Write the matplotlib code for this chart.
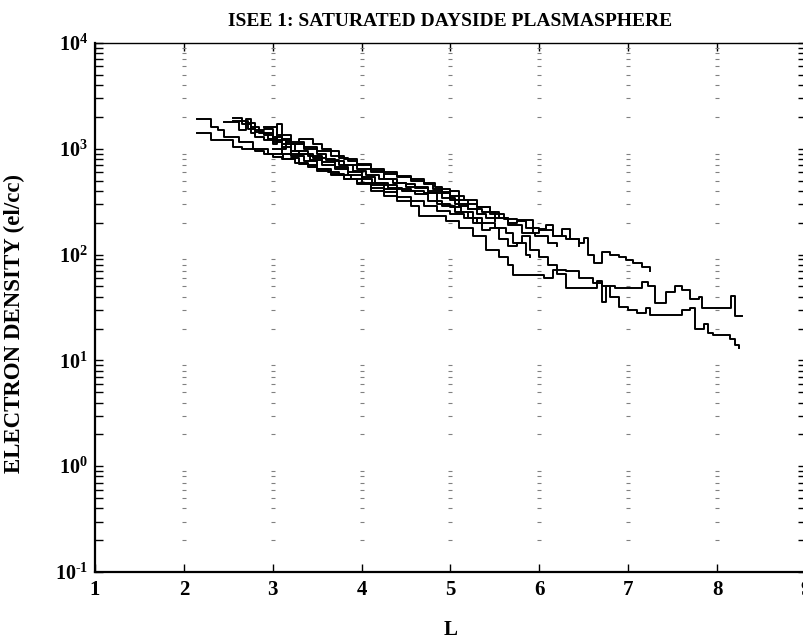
import numpy as np
import matplotlib
matplotlib.use('Agg')
import matplotlib.pyplot as plt
from matplotlib.ticker import LogLocator, NullFormatter

plt.rcParams['font.family'] = ['Liberation Serif', 'DejaVu Serif']
plt.rcParams['font.weight'] = 'bold'
plt.rcParams['mathtext.fontset'] = 'custom'
plt.rcParams['mathtext.rm'] = 'Liberation Serif:bold'
plt.rcParams['mathtext.bf'] = 'Liberation Serif:bold'
plt.rcParams['mathtext.it'] = 'Liberation Serif:bold'

# Density traces (L, electron density el/cc)
L1 = [2.15, 2.22, 2.3, 2.38, 2.45, 2.55, 2.62, 2.7, 2.78, 2.88, 2.95, 3.05, 3.12, 3.2, 3.3,
      3.4, 3.5, 3.62, 3.75, 3.88, 4.0, 4.12, 4.25, 4.4]
N1 = [1900, 1900, 1600, 1500, 1300, 1300, 1150, 1150, 1000, 1000, 900, 900, 800, 820, 720,
      700, 640, 600, 560, 520, 480, 450, 420, 390]

L2 = [2.15, 2.3, 2.45, 2.55, 2.65, 2.8, 2.9, 3.0, 3.1, 3.25, 3.4, 3.5, 3.65, 3.8, 3.95,
      4.1, 4.25, 4.4, 4.55, 4.7, 4.85, 5.0, 5.15, 5.3]
N2 = [1400, 1210, 1210, 1040, 1000, 950, 900, 840, 800, 740, 680, 620, 560, 520, 470,
      430, 390, 350, 320, 290, 260, 240, 220, 200]

L3 = [2.45, 2.55, 2.62, 2.7, 2.75, 2.8, 2.9, 3.0, 3.05, 3.1, 3.15, 3.2, 3.3, 3.45, 3.6,
      3.75, 3.9, 4.05, 4.2, 4.35, 4.5, 4.6, 4.75, 4.9, 5.05, 5.2, 5.35, 5.5, 5.65, 5.8,
      5.95, 6.1, 6.2]
N3 = [1800, 1800, 1500, 1900, 1400, 1300, 1200, 1100, 1700, 1000, 1200, 950, 900, 820, 780,
      700, 620, 560, 520, 480, 440, 430, 380, 340, 300, 270, 250, 220, 190, 160,
      150, 130, 120]

L4 = [2.55, 2.65, 2.75, 2.85, 2.95, 3.05, 3.15, 3.25, 3.35, 3.5, 3.6, 3.7, 3.8, 3.95, 4.1,
      4.25, 4.4, 4.5, 4.6, 4.75, 4.9, 5.0, 5.15, 5.3, 5.45, 5.55, 5.65, 5.75, 5.85, 6.0,
      6.15, 6.3, 6.45]
N4 = [1950, 1700, 1600, 1400, 1250, 1200, 1150, 1150, 1050, 900, 800, 760, 700, 650, 600,
      520, 470, 460, 440, 400, 390, 360, 330, 280, 250, 220, 200, 210, 180, 170,
      150, 140, 120]

L5 = [2.7, 2.8, 2.9, 3.0, 3.1, 3.2, 3.35, 3.5, 3.65, 3.8, 3.95, 4.1, 4.25, 4.4, 4.55,
      4.7, 4.82, 4.9, 5.0, 5.1, 5.2, 5.3, 5.45, 5.6, 5.75, 5.93, 6.0, 6.08, 6.15, 6.25,
      6.35, 6.45, 6.5, 6.55, 6.62, 6.7, 6.8, 6.9, 6.98, 7.05, 7.15, 7.25]
N5 = [1750, 1500, 1550, 1300, 1250, 1100, 1000, 950, 850, 800, 720, 650, 600, 550, 520,
      480, 440, 420, 400, 330, 300, 280, 240, 215, 212, 160, 175, 190, 150, 175,
      140, 130, 145, 100, 84, 106, 100, 95, 89, 84, 76, 70]

L6 = [2.9, 3.0, 3.1, 3.25, 3.4, 3.55, 3.7, 3.85, 4.0, 4.15, 4.3, 4.45, 4.6, 4.75, 4.9,
      5.05, 5.2, 5.35, 5.5, 5.62, 5.7, 5.8, 5.9, 6.0, 6.1, 6.2, 6.3, 6.45, 6.6, 6.65,
      6.7, 6.75, 6.85, 7.0, 7.1, 7.15, 7.22, 7.3, 7.36, 7.43, 7.53, 7.6, 7.7, 7.8, 7.83,
      8.13, 8.16, 8.2, 8.28]
N6 = [1400, 1200, 1100, 950, 850, 750, 680, 600, 540, 480, 430, 400, 370, 320, 290,
      250, 220, 200, 180, 160, 130, 150, 110, 95, 80, 65, 48, 48, 48, 56,
      36, 50, 48, 48, 48, 55, 50, 35, 35, 44, 50, 46, 38, 40, 31,
      31, 41, 26, 26]

L7 = [3.0, 3.1, 3.2, 3.35, 3.5, 3.65, 3.8, 3.95, 4.1, 4.25, 4.4, 4.55, 4.65, 4.8, 4.95,
      5.1, 5.25, 5.4, 5.55, 5.65, 5.7, 5.95, 6.05, 6.15, 6.3, 6.45, 6.6, 6.7, 6.8, 6.9,
      7.0, 7.1, 7.2, 7.25, 7.5, 7.6, 7.7, 7.75, 7.85, 7.9, 7.95, 8.1, 8.15, 8.2, 8.25]
N7 = [1000, 900, 850, 760, 650, 580, 520, 460, 400, 360, 320, 290, 230, 230, 210,
      180, 150, 110, 95, 80, 64, 64, 60, 72, 70, 60, 54, 50, 40, 32,
      30, 28, 31, 27, 27, 30, 31, 20, 22, 18, 17.5, 17.5, 16, 14, 13]

L8 = [2.55, 2.65, 2.72, 2.8, 2.9, 3.0, 3.1, 3.2, 3.3, 3.42, 3.55, 3.7, 3.85, 4.0, 4.12,
      4.25, 4.4, 4.55, 4.7, 4.85, 5.0, 5.12, 5.25, 5.35, 5.45, 5.55, 5.65, 5.75, 5.85, 5.9]
N8 = [1850, 1850, 1550, 1450, 1350, 1150, 1050, 900, 900, 780, 700, 650, 560, 520, 470,
      450, 420, 400, 380, 300, 280, 250, 200, 170, 180, 140, 120, 130, 100, 95]

L9 = [2.9, 3.05, 3.2, 3.3, 3.45, 3.55, 3.65, 3.75, 3.85, 3.95, 4.1, 4.25, 4.4, 4.55, 4.7,
      4.8, 4.9, 5.0, 5.1, 5.2, 5.3, 5.4, 5.5]
N9 = [1600, 1350, 1100, 1250, 1100, 1000, 950, 820, 760, 700, 620, 580, 540, 500, 460,
      420, 380, 330, 290, 270, 240, 220, 210]

traces = [(L1, N1), (L2, N2), (L3, N3), (L4, N4), (L5, N5),
          (L6, N6), (L7, N7), (L8, N8), (L9, N9)]

x_ticks = [1, 2, 3, 4, 5, 6, 7, 8, 9]
y_ticks = [1e-1, 1e0, 1e1, 1e2, 1e3, 1e4]
y_ticklabels = ['$10^{\\text{-}1}$', '$10^{0}$', '$10^{1}$', '$10^{2}$', '$10^{3}$', '$10^{4}$']

fig = plt.figure(figsize=(8.04, 6.42), dpi=100)
ax = fig.add_axes([95 / 804, 70 / 642, 711 / 804, 529 / 642])

# faint tick-mark grid at each integer L
grid_y = [m * 10.0 ** k for k in range(-1, 4) for m in range(2, 10)]
for xg in x_ticks[1:-1]:
    ax.plot([xg] * len(grid_y), grid_y, linestyle='none', marker='_',
            markersize=2.5, markeredgewidth=0.8, color='0.5')

for L, N in traces:
    ax.plot(L, N, drawstyle='steps-post', color='black', lw=1.4)

ax.set_yscale('log')
ax.set_xlim(1, 9)
ax.set_ylim(1e-1, 1e4)
ax.set_xticks(x_ticks)
ax.set_xticklabels([str(v) for v in x_ticks], fontsize=15)
ax.set_yticks(y_ticks)
ax.set_yticklabels(y_ticklabels, fontsize=14.5)
ax.yaxis.set_minor_locator(LogLocator(base=10, subs=np.arange(2, 10)))
ax.yaxis.set_minor_formatter(NullFormatter())

ax.tick_params(which='both', direction='in', top=True, right=True, width=1.0)
ax.tick_params(which='major', length=6)
ax.tick_params(which='minor', length=6)
ax.tick_params(axis='x', pad=6)
ax.tick_params(axis='y', pad=5)

ax.spines['left'].set_linewidth(1.6)
ax.spines['bottom'].set_linewidth(1.6)
ax.spines['top'].set_linewidth(1.0)
ax.spines['right'].set_linewidth(1.0)

ax.set_title('ISEE 1: SATURATED DAYSIDE PLASMASPHERE', fontsize=14,
             fontweight='bold', pad=12)
ax.set_xlabel('L', fontsize=15, fontweight='bold', labelpad=14)
ax.set_ylabel('ELECTRON DENSITY (el/cc)', fontsize=16.5, fontweight='bold')
ax.yaxis.set_label_coords(-0.098, 0.47)

fig.savefig('out.png', dpi=100)
